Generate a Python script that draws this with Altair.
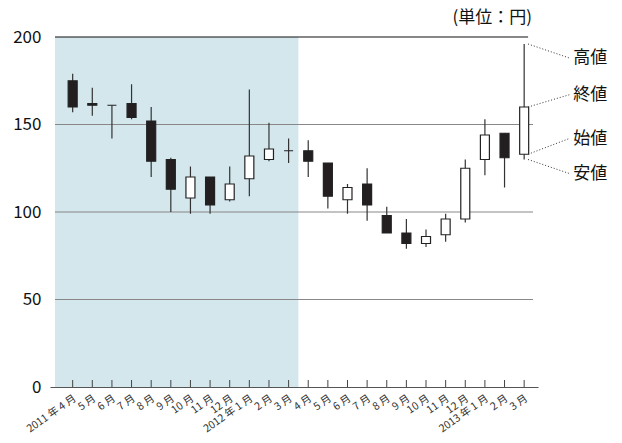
import altair as alt
import pandas as pd

months = ["2011 年 4 月", "5 月", "6 月", "7 月", "8 月", "9 月", "10 月", "11 月", "12 月",
          "2012 年 1 月", "2 月", "3 月", "4 月", "5 月", "6 月", "7 月", "8 月", "9 月",
          "10 月", "11 月", "12 月", "2013 年 1 月", "2 月", "3 月"]
open_ = [175, 162, 161, 162, 152, 130, 108, 120, 107, 119, 130, 135,
         135, 128, 107, 116, 98, 88, 82, 87, 96, 130, 145, 133]
close = [160, 161, 161, 154, 129, 113, 120, 104, 116, 132, 136, 135,
         129, 109, 114, 104, 88, 82, 86, 96, 125, 144, 131, 160]
high = [179, 171, 161, 173, 160, 131, 126, 120, 126, 170, 151, 142,
        141, 128, 116, 125, 103, 96, 90, 99, 130, 153, 145, 196]
low = [157, 155, 142, 153, 120, 100, 99, 99, 106, 109, 129, 128,
       120, 102, 99, 95, 88, 79, 80, 83, 94, 121, 114, 130]

grid_values = [50, 100, 150, 200]
legend_names = ["高値", "終値", "始値", "安値"]
legend_y = [188, 167, 142, 122]

FONT = "Noto Sans CJK JP"

n = len(months)
df = pd.DataFrame({"i": list(range(n)), "month": months, "open": open_, "close": close,
                   "high": high, "low": low})
df["up"] = df["close"] > df["open"]
df["lo_b"] = df[["open", "close"]].min(axis=1)
df["hi_b"] = df[["open", "close"]].max(axis=1)
df["zero"] = 0
df["tick"] = 4

xscale = alt.Scale(domain=[-0.9, 23.45], nice=False, zero=False)
yscale = alt.Scale(domain=[0, 200], nice=False)

shade_df = pd.DataFrame({"x": [-0.9], "x2": [11.5], "y": [0], "y2": [200]})
shade = alt.Chart(shade_df).mark_rect(color="#d3e7ed").encode(
    x=alt.X("x:Q", scale=xscale, axis=alt.Axis(
        values=list(range(n)), title=None, ticks=False, labels=False,
        domainColor="#555", domainWidth=1.2, grid=False)),
    x2="x2:Q",
    y=alt.Y("y:Q", scale=yscale, axis=alt.Axis(
        values=[0, 50, 100, 150, 200], title=None, ticks=False, domain=False, grid=False,
        labelFont=FONT, labelFontSize=17, labelColor="#111", labelPadding=9)),
    y2="y2:Q",
)

grid_df = pd.DataFrame({"v": grid_values,
                        "c": ["#888888", "#888888", "#888888", "#111111"],
                        "x": [-0.9, -0.9, -0.9, -0.9],
                        "x2": [23.45, 23.45, 23.45, 23.2]})
grid = alt.Chart(grid_df).mark_rule(strokeWidth=1.1).encode(
    x=alt.X("x:Q", scale=xscale), x2="x2:Q",
    y=alt.Y("v:Q", scale=yscale),
    color=alt.Color("c:N", scale=None),
)

ticks = alt.Chart(df).mark_rule(color="#444", strokeWidth=1).encode(
    x=alt.X("i:Q", scale=xscale), y=alt.Y("zero:Q", scale=yscale), y2="tick:Q")

xlabels = alt.Chart(df).mark_text(align="right", baseline="top", angle=325, dx=-4, dy=5,
                                  font=FONT, fontSize=10.5, color="#333").encode(
    x=alt.X("i:Q", scale=xscale), y=alt.Y("zero:Q", scale=yscale), text="month:N")

wicks = alt.Chart(df).mark_rule(color="#333", strokeWidth=1.2).encode(
    x=alt.X("i:Q", scale=xscale), y=alt.Y("low:Q", scale=yscale), y2="high:Q")

bodies = alt.Chart(df).mark_bar(size=9, stroke="#222", strokeWidth=1.2).encode(
    x=alt.X("i:Q", scale=xscale), y=alt.Y("lo_b:Q", scale=yscale), y2="hi_b:Q",
    fill=alt.condition("datum.up", alt.value("white"), alt.value("#231f20")),
)

last = df.iloc[-1]
lead_df = pd.DataFrame({
    "name": legend_names,
    "x0": [23.2] * 4,
    "x1": [25.3] * 4,
    "y0": [last["high"], last["close"], last["open"], last["low"]],
    "y1": legend_y,
    "xt": [25.5] * 4,
})
leaders = alt.Chart(lead_df).mark_rule(color="#333", strokeWidth=1, strokeDash=[1, 2]).encode(
    x=alt.X("x0:Q", scale=xscale), x2="x1:Q",
    y=alt.Y("y0:Q", scale=yscale), y2="y1:Q")

texts = alt.Chart(lead_df).mark_text(align="left", baseline="middle", font=FONT,
                                     fontSize=17, color="#111").encode(
    x=alt.X("xt:Q", scale=xscale), y=alt.Y("y1:Q", scale=yscale), text="name:N")

chart = alt.layer(shade, grid, ticks, xlabels, wicks, bodies, leaders, texts).properties(
    width=488, height=350,
    autosize=alt.AutoSizeParams(type="none"),
    padding={"left": 42, "top": 29, "right": 76, "bottom": 48},
    title=alt.Title("(単位：円)", anchor="end", frame="group", font=FONT, fontSize=17,
                    fontWeight="normal", color="#111", dx=-6, offset=1),
).configure_view(stroke=None)

chart.save("out.html", embed_options={"renderer": "svg", "actions": False})
